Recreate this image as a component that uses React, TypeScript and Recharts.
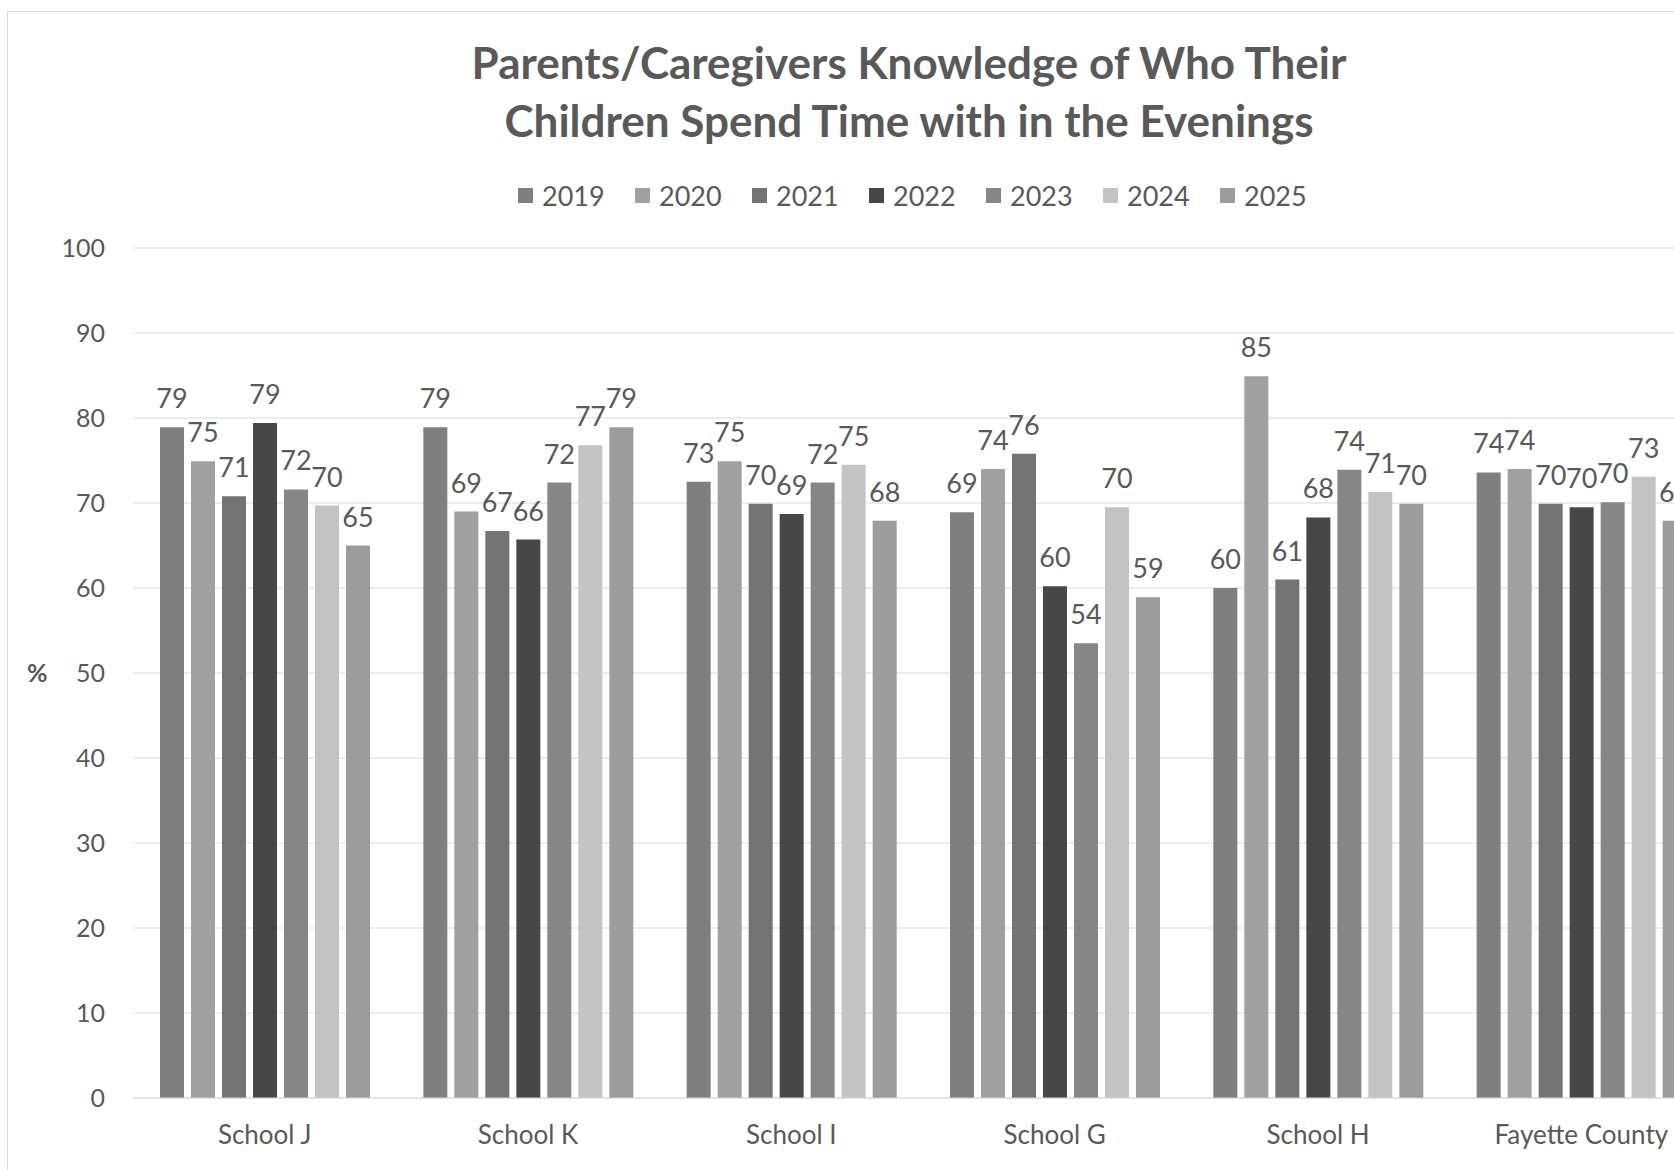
import React from 'react';
import { BarChart, Bar, XAxis, YAxis, CartesianGrid, Legend, LabelList, Label } from 'recharts';

const categories = ['School J', 'School K', 'School I', 'School G', 'School H', 'Fayette County'];
const years = ['2019', '2020', '2021', '2022', '2023', '2024', '2025'];
const yearColors = ['#7f7f7f', '#a0a0a0', '#737373', '#474747', '#868686', '#c3c3c3', '#9c9c9c'];

const v2019 = [78.9, 78.9, 72.5, 68.9, 60.0, 73.6];
const v2020 = [74.9, 69.0, 74.9, 74.0, 84.9, 74.0];
const v2021 = [70.8, 66.7, 69.9, 75.8, 61.0, 69.9];
const v2022 = [79.4, 65.7, 68.7, 60.2, 68.3, 69.5];
const v2023 = [71.6, 72.4, 72.4, 53.5, 73.9, 70.1];
const v2024 = [69.7, 76.8, 74.5, 69.5, 71.3, 73.1];
const v2025 = [65.0, 78.9, 67.9, 58.9, 69.9, 67.9];

const yTicks = [0, 10, 20, 30, 40, 50, 60, 70, 80, 90, 100];

const seriesValues = [v2019, v2020, v2021, v2022, v2023, v2024, v2025];

const data = categories.map((name, i) => {
  const row: Record<string, string | number> = { name };
  years.forEach((y, j) => {
    row['y' + y] = seriesValues[j][i];
  });
  return row;
});

const FONT = 'Lato, "Open Sans", sans-serif';
const TEXT = '#595959';

const LegendContent = () => (
  <div style={{ display: 'flex', alignItems: 'center', height: 30, fontFamily: FONT, fontSize: 27, color: TEXT }}>
    {years.map((y, i) => (
      <div key={y} style={{ width: 117, display: 'flex', alignItems: 'center' }}>
        <span style={{ width: 15, height: 15, background: yearColors[i], marginRight: 9, display: 'inline-block' }} />
        <span>{y}</span>
      </div>
    ))}
  </div>
);

const App: React.FC = () => {
  return (
    <div style={{ position: 'fixed', left: 0, top: 0, width: 1674, height: 1170, overflow: 'hidden', background: '#fff' }}>
      <div style={{ position: 'absolute', left: 7, top: 11, width: 1800, height: 1300, border: '1px solid #d9d9d9' }} />
      <div
        style={{
          position: 'absolute',
          left: 0,
          top: 34,
          width: 1818,
          textAlign: 'center',
          fontFamily: FONT,
          fontWeight: 700,
          fontSize: 44,
          lineHeight: '57.6px',
          color: TEXT,
        }}
      >
        Parents/Caregivers Knowledge of Who Their
        <br />
        Children Spend Time with in the Evenings
      </div>
      <div style={{ position: 'absolute', left: 0, top: 0 }}>
        <BarChart
          width={1760}
          height={1170}
          data={data}
          margin={{ top: 218, right: 47, left: 0, bottom: 0 }}
          barSize={24}
          barGap={7}
        >
          <CartesianGrid vertical={false} stroke="#d9d9d9" />
          <XAxis
            dataKey="name"
            axisLine={{ stroke: '#d9d9d9' }}
            tickLine={false}
            tickMargin={22}
            height={72}
            interval={0}
            tick={{ fill: TEXT, fontSize: 26, fontFamily: FONT }}
          />
          <YAxis
            width={133}
            domain={[0, 100]}
            ticks={yTicks}
            axisLine={false}
            tickLine={false}
            tickMargin={22}
            tick={{ fill: TEXT, fontSize: 25, fontFamily: FONT }}
          >
            <Label
              value="%"
              position="insideLeft"
              offset={27}
              style={{ fill: TEXT, fontSize: 25, fontWeight: 700, fontFamily: FONT }}
            />
          </YAxis>
          <Legend
            verticalAlign="top"
            content={<LegendContent />}
            wrapperStyle={{ left: 518, top: 180, width: 819, height: 30 }}
          />
          {years.map((y, i) => (
            <Bar key={y} dataKey={'y' + y} name={y} fill={yearColors[i]} isAnimationActive={false}>
              <LabelList
                dataKey={'y' + y}
                position="top"
                offset={19}
                formatter={(v: number) => Math.round(v)}
                fill={TEXT}
                fontSize={27}
                fontFamily={FONT}
              />
            </Bar>
          ))}
        </BarChart>
      </div>
    </div>
  );
};

export default App;
